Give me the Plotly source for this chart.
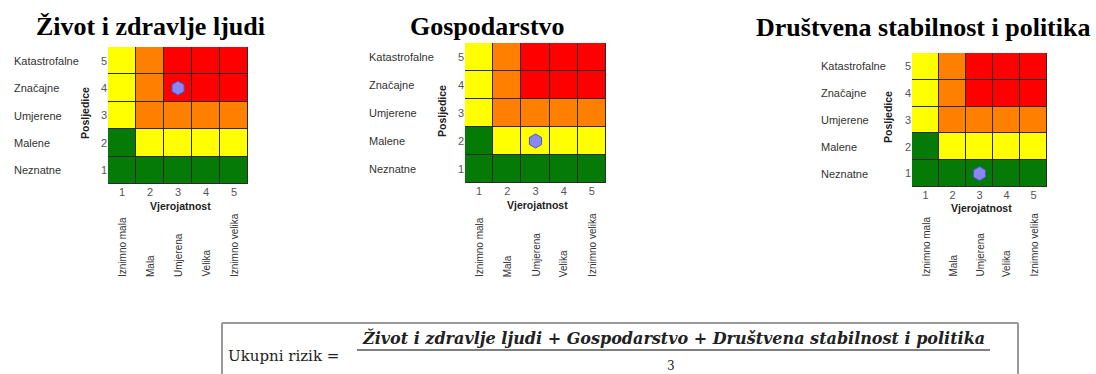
import plotly.graph_objects as go

# --- data -------------------------------------------------------------
panel_titles = ["Život i zdravlje ljudi", "Gospodarstvo", "Društvena stabilnost i politika"]
probability_ticks = [1, 2, 3, 4, 5]
consequence_ticks = [1, 2, 3, 4, 5]
probability_labels = ["Iznimno mala", "Mala", "Umjerena", "Velika", "Iznimno velika"]
consequence_labels = ["Neznatne", "Malene", "Umjerene", "Značajne", "Katastrofalne"]

# risk level per cell, rows = consequence 1..5, cols = probability 1..5
# 0 = low (green), 1 = moderate (yellow), 2 = high (orange), 3 = very high (red)
risk_matrix = [
    [0, 0, 0, 0, 0],
    [0, 1, 1, 1, 1],
    [1, 2, 2, 2, 2],
    [1, 2, 3, 3, 3],
    [1, 2, 3, 3, 3],
]

# assessed position of each panel
assessed_probability = [3, 3, 3]
assessed_consequence = [4, 2, 1]

formula_left = "Ukupni rizik ="
formula_top = "Život i zdravlje ljudi + Gospodarstvo + Društvena stabilnost i politika"
formula_bottom = "3"

# --- layout helpers ---------------------------------------------------
W, H = 1096, 374


def px(x):
    return x / W


def py(y):
    return 1 - y / H


# grid box of each panel in pixels: (left, right, top, bottom)
boxes = [(108, 248, 47, 184), (465, 606, 43, 183), (912, 1047, 53, 187)]
title_pos = [(150, 26), (487, 27), (923, 28)]
label_x = [12, 367, 819]
posljedice_pos = [(85, 113), (442, 111), (888, 117)]
vjer_pos = [(180, 206), (537, 205), (981, 208)]
rot_label_bottom = 279

colorscale = [
    [0.0, "#067A06"], [0.25, "#067A06"],
    [0.25, "#FFFF00"], [0.5, "#FFFF00"],
    [0.5, "#FF8000"], [0.75, "#FF8000"],
    [0.75, "#FF0000"], [1.0, "#FF0000"],
]

fig = go.Figure()
annotations = []
layout_axes = {}

for i in range(3):
    sfx = "" if i == 0 else str(i + 1)
    xa, ya = "x" + sfx, "y" + sfx
    l, r, t, b = boxes[i]

    fig.add_trace(go.Heatmap(
        x=probability_ticks, y=consequence_ticks, z=risk_matrix,
        colorscale=colorscale, zmin=-0.5, zmax=3.5, showscale=False,
        xgap=1, ygap=1, xaxis=xa, yaxis=ya, hoverinfo="skip",
    ))
    fig.add_trace(go.Scatter(
        x=[assessed_probability[i]], y=[assessed_consequence[i]],
        mode="markers", xaxis=xa, yaxis=ya, showlegend=False,
        marker=dict(symbol="hexagon", size=14, color="#8787F5",
                    line=dict(color="#4F4FD0", width=1)),
    ))

    layout_axes["xaxis" + sfx] = dict(
        domain=[px(l), px(r)], anchor=ya, range=[0.5, 5.5],
        tickvals=probability_ticks, showgrid=False, zeroline=False,
        showline=False, ticks="", fixedrange=True,
        tickfont=dict(family="Liberation Sans", size=11, color="#555"),
    )
    layout_axes["yaxis" + sfx] = dict(
        domain=[py(b), py(t)], anchor=xa, range=[0.5, 5.5],
        tickvals=consequence_ticks, showgrid=False, zeroline=False,
        showline=False, ticks="", fixedrange=True,
        tickfont=dict(family="Liberation Sans", size=11, color="#555"),
    )

    # panel title
    annotations.append(dict(
        text="<b>%s</b>" % panel_titles[i], xref="paper", yref="paper",
        x=px(title_pos[i][0]), y=py(title_pos[i][1]), showarrow=False,
        xanchor="center", yanchor="middle",
        font=dict(family="Liberation Serif", size=26, color="black"),
    ))
    # consequence names
    for c, name in zip(consequence_ticks, consequence_labels):
        annotations.append(dict(
            text=name, xref="paper", yref=ya, x=px(label_x[i]), y=c,
            showarrow=False, xanchor="left", yanchor="middle",
            font=dict(family="Liberation Sans", size=11, color="#333"),
        ))
    # probability names (rotated)
    for p, name in zip(probability_ticks, probability_labels):
        annotations.append(dict(
            text=name, xref=xa, yref="paper", x=p, y=py(rot_label_bottom),
            showarrow=False, xanchor="center", yanchor="bottom", textangle=-90,
            font=dict(family="Liberation Sans", size=10, color="#333"),
        ))
    # axis names
    annotations.append(dict(
        text="<b>Posljedice</b>", xref="paper", yref="paper",
        x=px(posljedice_pos[i][0]), y=py(posljedice_pos[i][1]), textangle=-90,
        showarrow=False, xanchor="center", yanchor="middle",
        font=dict(family="Liberation Sans", size=10.5, color="#222"),
    ))
    annotations.append(dict(
        text="<b>Vjerojatnost</b>", xref="paper", yref="paper",
        x=px(vjer_pos[i][0]), y=py(vjer_pos[i][1]),
        showarrow=False, xanchor="center", yanchor="middle",
        font=dict(family="Liberation Sans", size=10.5, color="#222"),
    ))

# formula at the bottom
annotations.append(dict(
    text=formula_left, xref="paper", yref="paper", x=px(341), y=py(356),
    showarrow=False, xanchor="right", yanchor="middle",
    font=dict(family="DejaVu Serif", size=15, color="#222"),
))
annotations.append(dict(
    text="<b><i>%s</i></b>" % formula_top, xref="paper", yref="paper",
    x=px(673), y=py(338), showarrow=False, xanchor="center", yanchor="middle",
    font=dict(family="DejaVu Serif", size=16, color="#222"),
))
annotations.append(dict(
    text=formula_bottom, xref="paper", yref="paper", x=px(671), y=py(366),
    showarrow=False, xanchor="center", yanchor="middle",
    font=dict(family="DejaVu Serif", size=12, color="#222"),
))

shapes = [
    dict(type="line", xref="paper", yref="paper", x0=px(222), x1=px(1018),
         y0=py(323), y1=py(323), line=dict(color="#999", width=2)),
    dict(type="line", xref="paper", yref="paper", x0=px(222), x1=px(222),
         y0=py(323), y1=0, line=dict(color="#999", width=2)),
    dict(type="line", xref="paper", yref="paper", x0=px(1018), x1=px(1018),
         y0=py(323), y1=0, line=dict(color="#999", width=2)),
    dict(type="line", xref="paper", yref="paper", x0=px(357), x1=px(990),
         y0=py(350), y1=py(350), line=dict(color="#555", width=1.5)),
]

fig.update_layout(
    width=W, height=H, margin=dict(l=0, r=0, t=0, b=0),
    paper_bgcolor="white", plot_bgcolor="#2b2b2b", showlegend=False,
    annotations=annotations, shapes=shapes, **layout_axes,
)

fig.write_html("out.html", config={"displayModeBar": False},
               post_script="document.body.style.margin='0';")
